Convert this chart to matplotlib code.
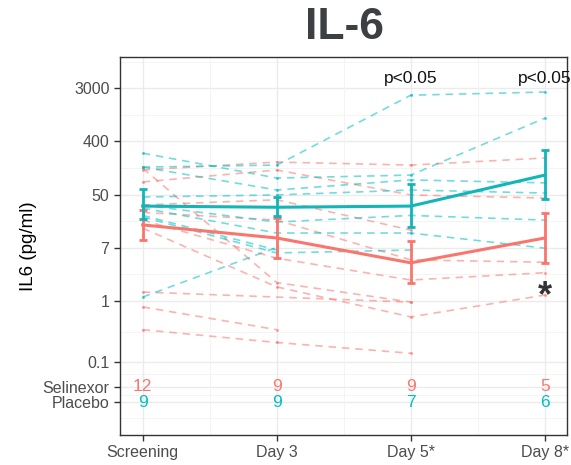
import numpy as np
import matplotlib
matplotlib.use('Agg')
import matplotlib.pyplot as plt

plt.rcParams['font.family'] = ['Liberation Sans', 'DejaVu Sans']

# categories / ticks
visits = ['Screening', 'Day 3', 'Day 5*', 'Day 8*']
ytick_vals = [np.exp(8), np.exp(6), np.exp(4), np.exp(2), 1, 0.1]
ytick_labels = ['3000', '400', '50', '7', '1', '0.1']
count_rows = {'Selinexor': 0.04, 'Placebo': 0.022}

# individual patients (pg/ml), None = missing
placebo_pts = [
    [154, 166, 2300, 2590],
    [260, 102, 114, 972],
    [154, 65, 95, 85],
    [50, 54, 65, 58],
    [37, 19.5, 25, 21],
    [33, 12.9, 12.9, 7.3],
    [25, 6.8, None, None],
    [23.5, 6.1, 6.8, None],
    [1.16, 7.5, None, None],
]
selinexor_pts = [
    [138, 186, 166, 217],
    [88, 138, 54, 48],
    [37, 45, 14.4, None],
    [28, 21, 4.7, 4.3],
    [148, 2.0, 0.96, None],
    [21, 5.0, 2.2, 2.9],
    [15.5, 1.7, 0.55, 1.25],
    [0.34, 0.21, 0.14, None],
    [0.8, 0.34, None, None],
    [1.4, None, 0.96, None],
    [12, None, None, None],
    [25, None, None, None],
]

# group summaries
placebo_mean = [35.5, 34, 35.5, 114]
placebo_lo = [21.8, 24.5, 16, 46]
placebo_hi = [67, 50, 81, 293]
selinexor_mean = [17.5, 10.7, 4.2, 10.7]
selinexor_lo = [9.9, 5.0, 2.0, 4.2]
selinexor_hi = [30.6, 22.6, 9.6, 27.4]

red = '#F8766D'
teal = '#00BFC4'
teal_dark = '#12B5B8'

fig = plt.figure(figsize=(5.71, 4.65), dpi=100)
ax = fig.add_axes([0.21, 0.0645, 0.783, 0.8125])
ax.set_yscale('log')
ax.set_ylim(np.exp(-5.04), np.exp(9.17))
ax.set_xlim(-0.17, 3.165)

x = np.arange(len(visits))

# grid: major at ticks, minor halfway (in log space)
major_y = list(ytick_vals) + list(count_rows.values())
logs = sorted(np.log(major_y))
minor_y = [(a + b) / 2 for a, b in zip(logs[:-1], logs[1:])] + [9.0, logs[0] - 0.6]
for v in major_y:
    ax.axhline(v, color='#ebebeb', lw=1.0, zorder=0)
for v in minor_y:
    ax.axhline(np.exp(v), color='#f2f2f2', lw=0.6, zorder=0)
for xi in x:
    ax.axvline(xi, color='#ebebeb', lw=1.0, zorder=0)
for xi in x[:-1] + 0.5:
    ax.axvline(xi, color='#f2f2f2', lw=0.6, zorder=0)


def draw_patients(rows, color):
    for r in rows:
        xs = [xi for xi, v in zip(x, r) if v is not None]
        ys = [v for v in r if v is not None]
        ax.plot(xs, ys, ls=(0, (4.5, 3.5)), color=color, lw=1.2, alpha=0.55,
                marker='o', ms=1.2, zorder=2)


draw_patients(selinexor_pts, red)
draw_patients(placebo_pts, teal)


def draw_mean(mean, lo, hi, color):
    mean = np.array(mean)
    yerr = [mean - np.array(lo), np.array(hi) - mean]
    ax.errorbar(x, mean, yerr=yerr, color=color, lw=2.2, elinewidth=2.0,
                capsize=3, capthick=2.0, zorder=4)


draw_mean(selinexor_mean, selinexor_lo, selinexor_hi, red)
draw_mean(placebo_mean, placebo_lo, placebo_hi, teal_dark)

# patient counts
n_sel = [sum(r[i] is not None for r in selinexor_pts) for i in range(len(visits))]
n_pla = [sum(r[i] is not None for r in placebo_pts) for i in range(len(visits))]
for xi, a, b in zip(x, n_sel, n_pla):
    ax.text(xi, count_rows['Selinexor'], str(a), color=red, fontsize=12.5,
            ha='center', va='center', zorder=5)
    ax.text(xi, count_rows['Placebo'], str(b), color=teal, fontsize=12.5,
            ha='center', va='center', zorder=5)

# significance marks
for xi in [2, 3]:
    ax.text(xi, np.exp(8.35), 'p<0.05', fontsize=12.5, ha='center', va='center',
            color='#111111', clip_on=False)
ax.text(3, np.exp(0.18), '*', fontsize=26, fontweight='bold', ha='center',
        va='center', color='#333333')

# axes styling
ax.set_yticks(list(ytick_vals) + list(count_rows.values()))
ax.set_yticklabels(ytick_labels + list(count_rows.keys()))
ax.minorticks_off()
ax.set_xticks(x)
ax.set_xticklabels(visits)
ax.tick_params(axis='both', colors='#333333', labelcolor='#4d4d4d',
               labelsize=11.5, length=4, width=1.0)
for s in ax.spines.values():
    s.set_color('#333333')
    s.set_linewidth(1.0)
ax.set_ylabel('IL6 (pg/ml)', fontsize=13.5, color='black', labelpad=4)
ax.set_facecolor('white')

fig.text(0.604, 0.94, 'IL-6', fontsize=32, fontweight='bold', color='#3d4043',
         ha='center', va='center')

plt.savefig('out.png', dpi=100)
